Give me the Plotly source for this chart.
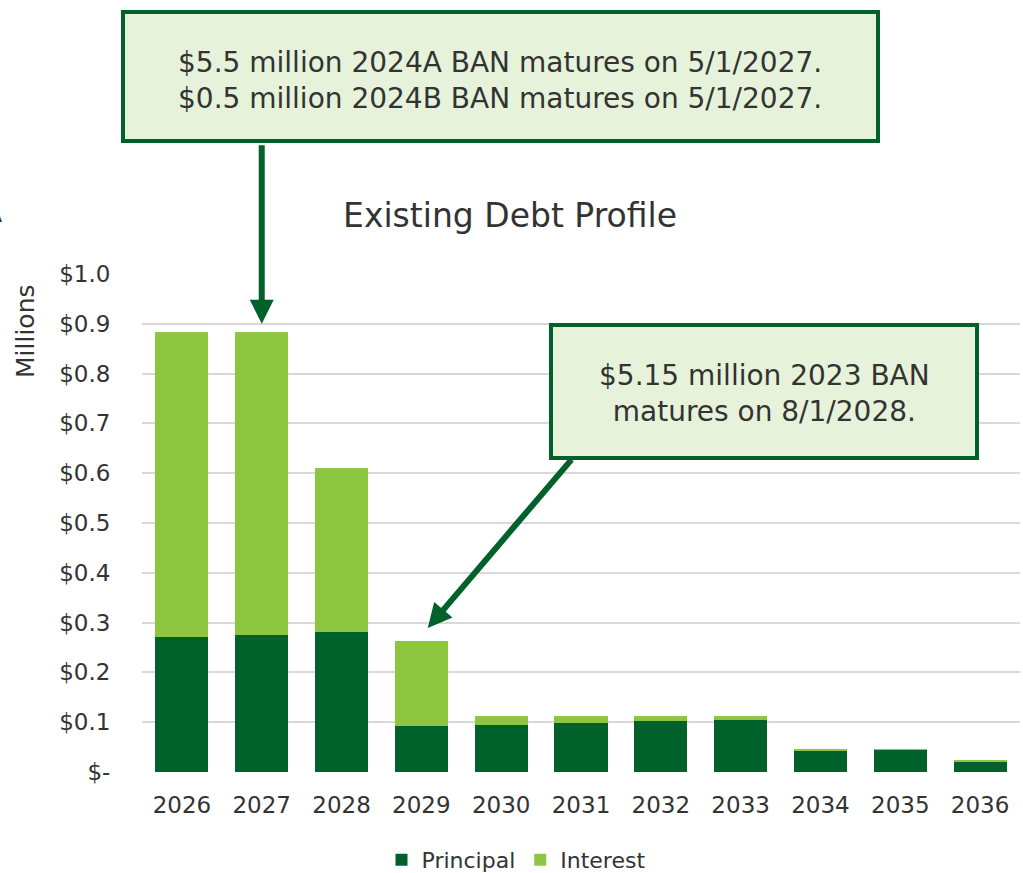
import plotly.graph_objects as go

# Debt service by fiscal year, in millions of dollars
years = ["2026", "2027", "2028", "2029", "2030", "2031", "2032", "2033", "2034", "2035", "2036"]
principal = [0.271, 0.276, 0.282, 0.092, 0.094, 0.098, 0.102, 0.105, 0.043, 0.045, 0.022]
interest = [0.612, 0.607, 0.329, 0.171, 0.018, 0.014, 0.010, 0.007, 0.003, 0.001, 0.0005]

y_ticks = [0.0, 0.1, 0.2, 0.3, 0.4, 0.5, 0.6, 0.7, 0.8, 0.9, 1.0]
y_tick_labels = ["$-", "$0.1", "$0.2", "$0.3", "$0.4", "$0.5", "$0.6", "$0.7", "$0.8", "$0.9", "$1.0"]

note_2024 = "$5.5 million 2024A BAN matures on 5/1/2027.<br>$0.5 million 2024B BAN matures on 5/1/2027."
note_2023 = "$5.15 million 2023 BAN<br>matures on 8/1/2028."

DARK = "#00612A"
LIGHT = "#8DC640"
BOX_FILL = "#E6F2DA"
TEXT = "#333333"
FONT = "DejaVu Sans"

W, H = 1023, 873
L, R, T, B = 142, 3, 274, 101
PW, PH = W - L - R, H - T - B


def px(x):
    return (x - L) / PW


def py(y):
    return (H - B - y) / PH


fig = go.Figure()
fig.add_trace(go.Bar(x=years, y=principal, name="Principal", marker_color=DARK,
                     marker_line_width=0))
fig.add_trace(go.Bar(x=years, y=interest, name="Interest", marker_color=LIGHT,
                     marker_line_width=0))

fig.update_layout(
    width=W, height=H, autosize=False,
    margin=dict(l=L, r=R, t=T, b=B, autoexpand=False),
    barmode="stack", bargap=0.335,
    plot_bgcolor="white", paper_bgcolor="white",
    font=dict(family=FONT, color=TEXT, size=23),
    title=dict(text="Existing Debt Profile", xref="container", yref="container",
               x=510 / W, y=1 - 215 / H, xanchor="center", yanchor="middle",
               font=dict(size=33, color=TEXT, family=FONT)),
    legend=dict(orientation="h", xref="container", yref="container",
                x=516 / W, y=1 - 860 / H, xanchor="center", yanchor="middle",
                font=dict(size=22, color=TEXT), itemwidth=30,
                traceorder="normal"),
    showlegend=True,
)

fig.update_xaxes(type="category", showgrid=False, showline=False, zeroline=False,
                 ticks="outside", ticklen=12, tickcolor="rgba(0,0,0,0)",
                 tickfont=dict(size=23, color=TEXT))
fig.update_yaxes(range=[0, 1.0], tickvals=y_ticks, ticktext=y_tick_labels,
                 showgrid=True, gridcolor="#D9D9D9", gridwidth=1.5,
                 zeroline=False, showline=False,
                 ticks="outside", ticklen=26, tickcolor="rgba(0,0,0,0)",
                 tickfont=dict(size=23, color=TEXT))

# "Millions" display-unit label beside the top of the value axis
fig.add_annotation(text="Millions", textangle=-90, xref="paper", yref="paper",
                   x=px(25), y=py(331), xanchor="center", yanchor="middle",
                   showarrow=False, font=dict(size=25, color=TEXT))

# Edge of a heading that runs off the left side of the page
fig.add_annotation(text="A", xref="paper", yref="paper", x=px(4), y=py(212),
                   xanchor="right", yanchor="middle", showarrow=False,
                   font=dict(size=28, color=TEXT))

# Callout boxes
fig.add_shape(type="rect", xref="paper", yref="paper",
              x0=px(123), x1=px(878), y0=py(141), y1=py(12),
              fillcolor=BOX_FILL, line=dict(color=DARK, width=4), layer="above")
fig.add_annotation(text=note_2024, xref="paper", yref="paper",
                   x=px(500), y=py(80), xanchor="center", yanchor="middle",
                   showarrow=False, align="center",
                   font=dict(size=28, color=TEXT))

fig.add_shape(type="rect", xref="paper", yref="paper",
              x0=px(551), x1=px(977), y0=py(458), y1=py(325),
              fillcolor=BOX_FILL, line=dict(color=DARK, width=4), layer="above")
fig.add_annotation(text=note_2023, xref="paper", yref="paper",
                   x=px(764), y=py(393), xanchor="center", yanchor="middle",
                   showarrow=False, align="center",
                   font=dict(size=28, color=TEXT))

# Arrows from the callouts down to the maturing years
fig.add_annotation(text="", x=1, y=0.9, xref="x", yref="y",
                   ax=0, ay=-180, showarrow=True, arrowhead=2, arrowsize=0.8,
                   arrowwidth=6, arrowcolor=DARK, standoff=0)
fig.add_annotation(text="", x=3.08, y=0.289, xref="x", yref="y",
                   ax=145, ay=-170, showarrow=True, arrowhead=2, arrowsize=0.8,
                   arrowwidth=6, arrowcolor=DARK, standoff=0)

fig.write_html("out.html")
